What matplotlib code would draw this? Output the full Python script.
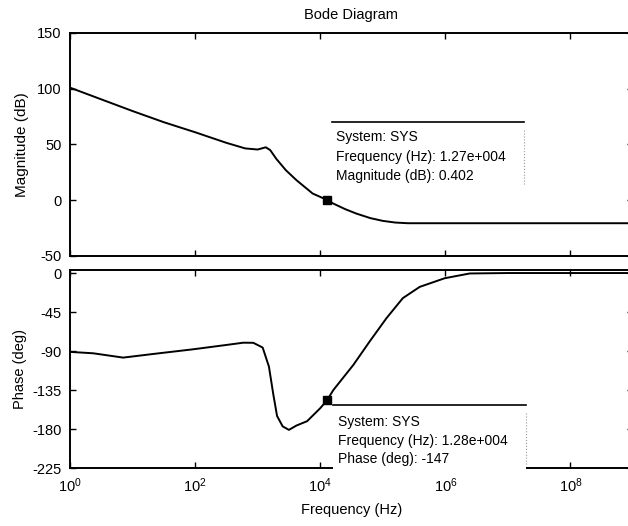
import matplotlib
matplotlib.use("Agg")
import matplotlib.pyplot as plt
from matplotlib.lines import Line2D
from matplotlib.patches import Rectangle

# ---- data ----
mag_freq_hz = [1, 3.16, 10, 31.6, 100, 316, 631, 1000, 1349, 1585, 1995, 2818,
               4169, 7586, 12700, 16218, 25119, 38019, 63096, 100000, 158489,
               251189, 1e9]
mag_db = [101, 90.5, 80, 70, 61, 51.5, 46.5, 45.5, 47.5, 45, 37, 27,
          18, 6, 0.402, -3, -8, -12, -16, -18.5, -20, -20.6, -20.6]

phase_freq_hz = [1, 2.34, 7.08, 21.4, 93.3, 316, 589, 851, 1202, 1514, 1778, 2042,
                 2512, 3162, 4169, 6166, 10000, 12800, 16218, 33884, 61660,
                 114815, 208930, 389045, 977237, 2454709, 1e7, 1e9]
phase_deg = [-91, -92.6, -97.6, -93.4, -88, -83, -80.4, -80.5, -86, -108, -140, -165,
             -177, -181, -176, -171, -156, -147, -135, -106, -79,
             -52, -29, -16, -6, -0.5, 0, 0]

tip_mag = (12700, 0.402)
tip_phase = (12800, -147)
tip_mag_text = ["System: SYS", "Frequency (Hz): 1.27e+004", "Magnitude (dB): 0.402"]
tip_phase_text = ["System: SYS", "Frequency (Hz): 1.28e+004", "Phase (deg): -147"]

xticks = [1e0, 1e2, 1e4, 1e6, 1e8]
mag_ticks = [-50, 0, 50, 100, 150]
phase_ticks = [-225, -180, -135, -90, -45, 0]

# ---- figure ----
W, H = 628, 526
plt.rcParams['font.family'] = ['Liberation Sans', 'DejaVu Sans']
plt.rcParams['mathtext.default'] = 'regular'
plt.rcParams['axes.unicode_minus'] = False
fig = plt.figure(figsize=(W / 100, H / 100), dpi=100)

def fx(px):
    return px / W

def fy(py):
    return 1 - py / H

left, right = 70, 633
ax1 = fig.add_axes([fx(left), fy(256), fx(right - left), (256 - 33) / H])
ax2 = fig.add_axes([fx(left), fy(468), fx(right - left), (468 - 270) / H])

for ax in (ax1, ax2):
    ax.set_xscale('log')
    ax.set_xlim(1, 1e9)
    ax.set_xticks(xticks)
    ax.xaxis.set_minor_locator(matplotlib.ticker.NullLocator())
    ax.tick_params(direction='in', length=4, width=1, top=True, right=True,
                   labelsize=10.5, pad=6)
    for s in ax.spines.values():
        s.set_linewidth(1.4)

ax1.plot(mag_freq_hz, mag_db, color='black', lw=1.4)
ax1.set_ylim(-50, 150)
ax1.set_yticks(mag_ticks)
ax1.set_xticklabels([])
ax1.set_ylabel('Magnitude (dB)', fontsize=11, labelpad=6)
ax1.set_title('Bode Diagram', fontsize=10.5, pad=10)

ax2.plot(phase_freq_hz, phase_deg, color='black', lw=1.4)
ax2.set_ylim(-225, 3.5)
ax2.set_yticks(phase_ticks)
ax2.set_ylabel('Phase (deg)', fontsize=10.5, labelpad=4)
ax2.set_xlabel('Frequency (Hz)', fontsize=10.5, labelpad=6)

# ---- data tips ----
def tipbox(x0, x1, y0, y1, lines, tx, ty0, dy):
    fig.patches.append(Rectangle((fx(x0), fy(y1)), fx(x1 - x0), (y1 - y0) / H,
                                 transform=fig.transFigure, facecolor='white',
                                 edgecolor='none', zorder=5))
    fig.lines.append(Line2D([fx(x0), fx(x1)], [fy(y0), fy(y0)],
                            transform=fig.transFigure, color='black', lw=1.2, zorder=6))
    fig.lines.append(Line2D([fx(x1), fx(x1)], [fy(y0 + 8), fy(y1 - 8)],
                            transform=fig.transFigure, color='#999999', lw=0.8,
                            ls=':', zorder=6))
    for i, t in enumerate(lines):
        fig.text(fx(tx), fy(ty0 + i * dy), t, fontsize=10, va='center', ha='left',
                 zorder=7)

tipbox(332, 524, 122, 192, tip_mag_text, 336, 137, 19.5)
tipbox(333, 526, 405, 472, tip_phase_text, 338, 422, 18.5)

ax1.plot([tip_mag[0]], [tip_mag[1]], marker='s', ms=6, color='black', zorder=8)
ax2.plot([tip_phase[0]], [tip_phase[1]], marker='s', ms=6, color='black', zorder=8)

fig.savefig('out.png', dpi=100)
